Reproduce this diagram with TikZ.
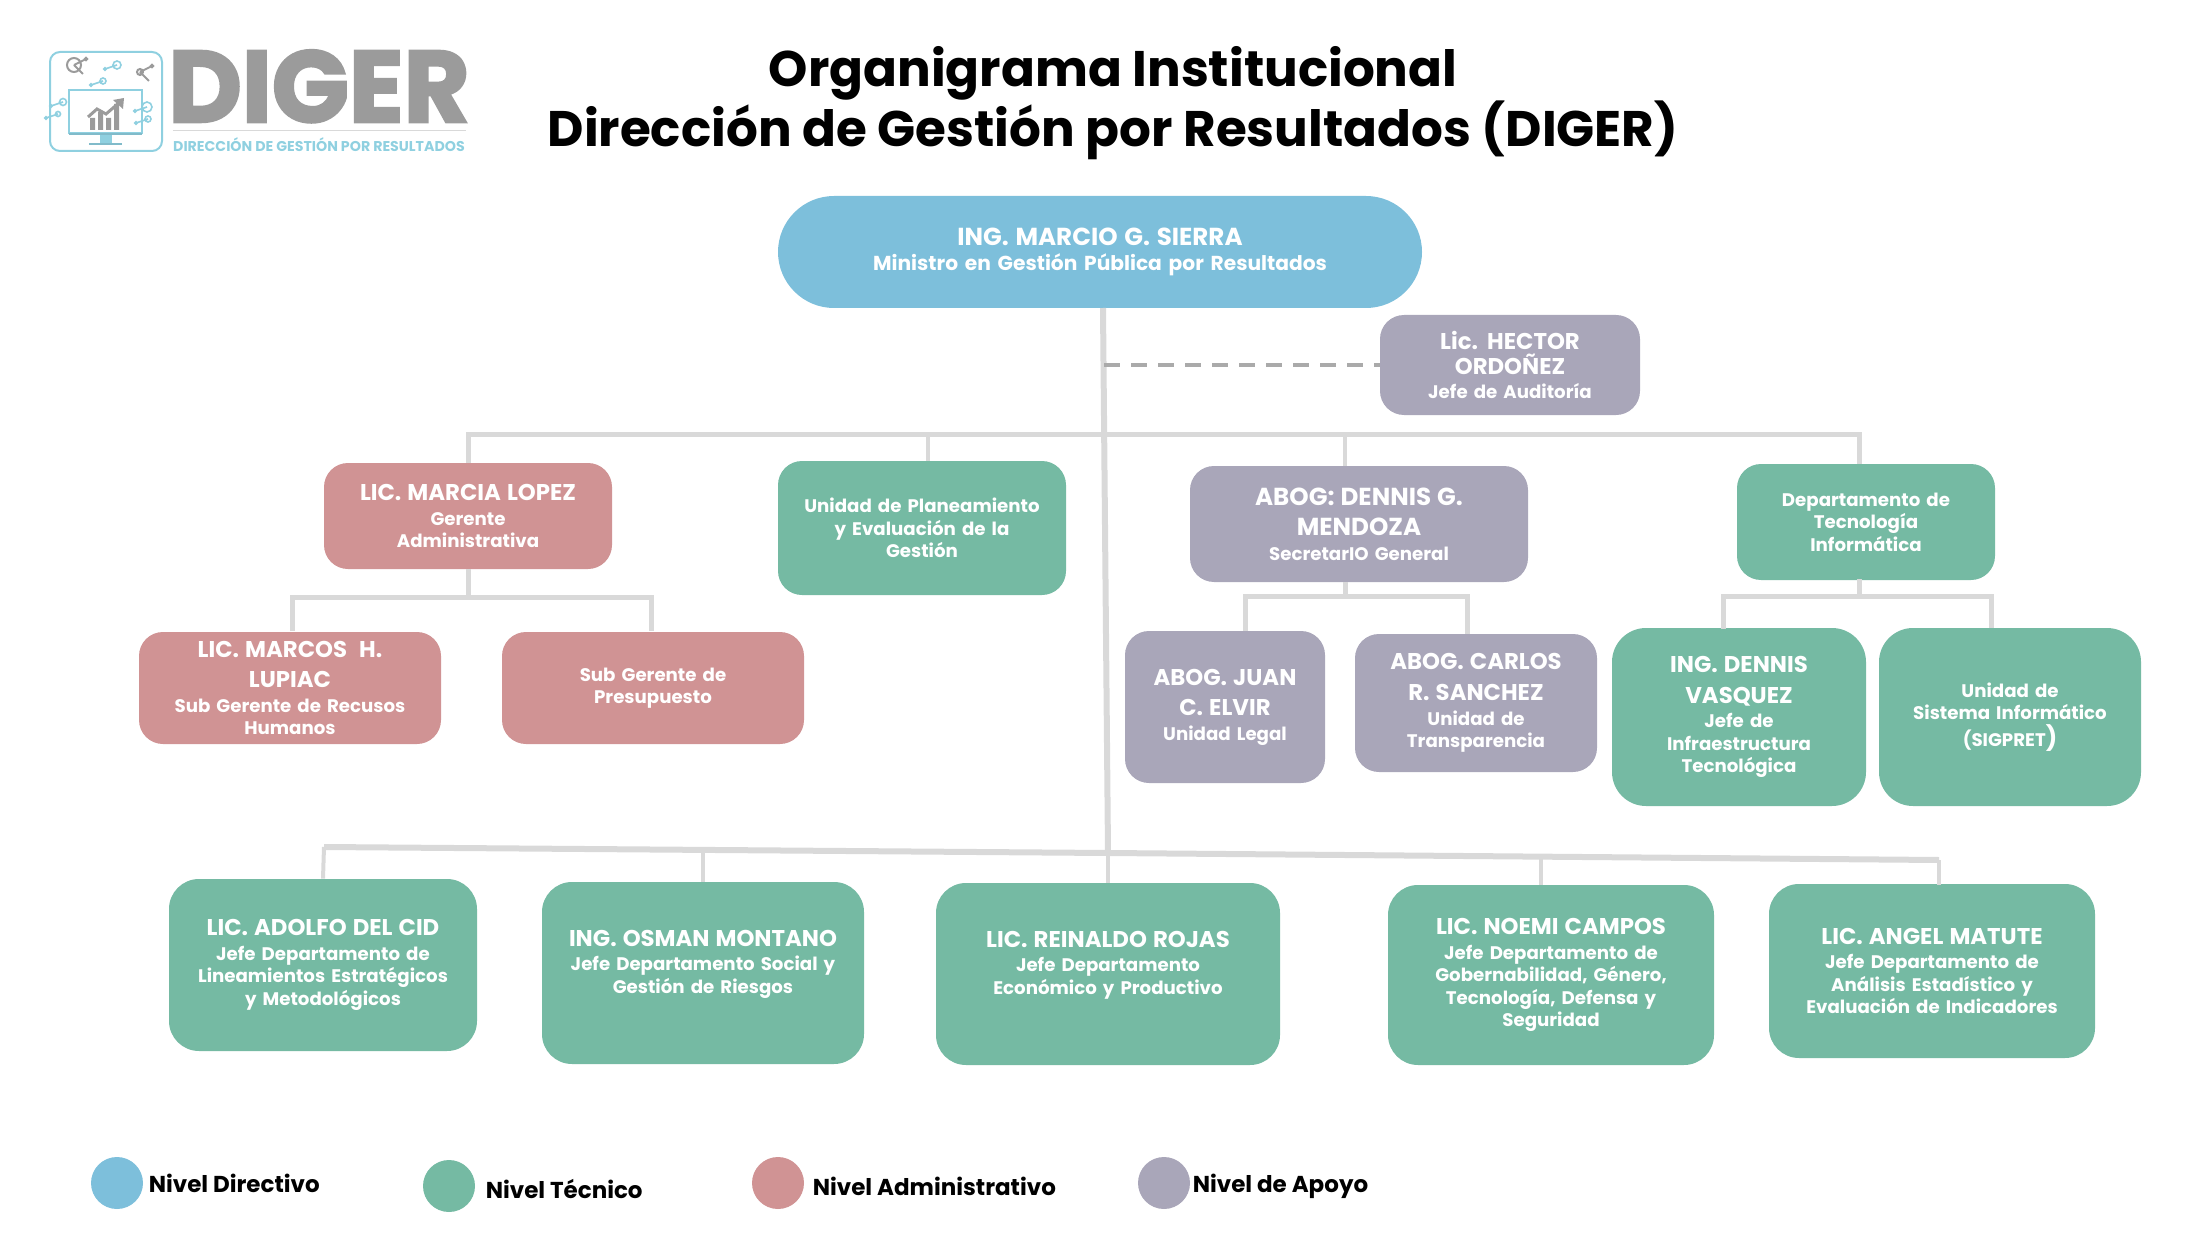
\documentclass[tikz,border=0pt]{standalone}
\usepackage{fontspec}
\setmainfont{Poppins}
\newfontfamily\logofont[BoldFeatures={FakeBold=2.5}]{Poppins}
\usetikzlibrary{positioning}

\definecolor{azul}{HTML}{7DBFDB}
\definecolor{verde}{HTML}{75BAA3}
\definecolor{rosa}{HTML}{D09394}
\definecolor{lila}{HTML}{A9A6B9}
\definecolor{linea}{HTML}{D9D9D9}
\definecolor{gris}{HTML}{9B9B9B}
\definecolor{celeste}{HTML}{8FD0E0}

\newcommand{\nombre}[2][11.4]{{\fontsize{#1}{13}\selectfont #2}\\[1pt]}
\newcommand{\nombreb}[2][11.4]{{\fontsize{#1}{13}\selectfont #2}\\[4pt]}

\begin{document}
\begin{tikzpicture}[
            x=0.5pt, y=-0.5pt,
            every node/.style={ inner sep=0pt },
            cargo/.style={ text=white, align=center, rounded corners=12pt, text width=#1,
                font=\fontsize{9.1}{11.3}\selectfont\bfseries },
            cargo/.default=130pt,
            conn/.style={ draw=linea, line width=2.5pt },
            punto/.style={ circle, minimum size=26pt },
            nivel/.style={ font=\fontsize{11.5}{13}\selectfont\bfseries, right=2.5pt of #1 }
        ]
        \useasboundingbox (0,0) rectangle (2206,1241);

        % logo
        \draw[celeste, line width=1pt, rounded corners=5pt] (50,52) rectangle (162,151);
        \draw[celeste, line width=0.7pt] (69,90) rectangle (142,133);
        \fill[celeste!90!black] (69,133) rectangle (142,135);
        \fill[celeste] (100,135) rectangle (112,143);
        \fill[celeste!90!black] (89,143) rectangle (122,145);
        \fill[gris] (90,130) rectangle (95,118) (98,130) rectangle (103,112) (106,130) rectangle (111,118) (114,130) rectangle (119,104);
        \draw[gris, line width=1.5pt] (88,117) -- (97,109) -- (106,114) -- (120,102);
        \fill[gris] (124,98) -- (113,100) -- (123,109) -- cycle;
        \foreach \x/\y/\r in {117/65/4, 103/81/3, 63/102/3.5, 147/107/5, 58/114/2.5, 148/119/3}
            \draw[celeste, line width=0.8pt] (\x,\y) circle (\r) -- (\x-12,\y+4) circle (1.2);
        \foreach \x/\y/\r in {74/65/7, 140/72/3}
            \draw[gris, line width=1pt] (\x,\y) circle (\r) -- (\x+9,\y+9) (\x,\y) -- (\x+12,\y-6) circle (1.2);
        \node[text=gris, text height=35pt, text depth=0pt] (marca) at (319,87) {\logofont\fontsize{50.6}{50}\selectfont\bfseries DIGER};
        \node[text=celeste, text height=5pt, text depth=0pt, font=\fontsize{7.1}{8}\selectfont\bfseries] (lema) at (319,147) {DIRECCIÓN DE GESTIÓN POR RESULTADOS};
        \draw[linea, line width=0.4pt] (lema.north west) ++(0,-11) -- ++(293,0);

        % titulo
        \node[align=center, font=\fontsize{25}{30}\selectfont\bfseries] (titulo) at (1113,103) {Organigrama Institucional\\Dirección de Gestión por Resultados (DIGER)};

        % nivel directivo
        \node[cargo=280pt, fill=azul, minimum width=322pt, minimum height=56pt, rounded corners=28pt, font=\fontsize{10.1}{11.3}\selectfont\bfseries] (sierra) at (1100,252) {\nombre[12.3]{ING. MARCIO G. SIERRA}Ministro en Gestión Pública por Resultados};
        \node[cargo=120pt, fill=lila, minimum width=130pt, minimum height=50pt] (hector) at (1510,365) {\nombre{Lic. HECTOR}\nombre{ORDOÑEZ}Jefe de Auditoría};

        % segundo nivel
        \node[cargo, fill=rosa, minimum width=144pt, minimum height=53pt] (marcia) at (468,516) {\nombre{LIC. MARCIA LOPEZ}Gerente\\Administrativa};
        \node[cargo, fill=verde, minimum width=144pt, minimum height=67pt] (planeamiento) at (922,528) {Unidad de Planeamiento\\y Evaluación de la\\Gestión};
        \node[cargo, fill=lila, minimum width=169pt, minimum height=58pt] (mendoza) at (1359,524) {\nombreb[12.3]{ABOG: DENNIS G.}\nombre[12.3]{MENDOZA}SecretarIO General};
        \node[cargo=120pt, fill=verde, minimum width=129pt, minimum height=58pt] (depto) at (1866,522) {Departamento de\\Tecnología\\Informática};

        % tercer nivel
        \node[cargo, fill=rosa, minimum width=151pt, minimum height=56pt] (marcos) at (290,688) {\nombreb{LIC. MARCOS~~H.}\nombre{LUPIAC}Sub Gerente de Recusos\\Humanos};
        \node[cargo, fill=rosa, minimum width=151pt, minimum height=56pt] (presupuesto) at (653,688) {Sub Gerente de\\Presupuesto};
        \node[cargo=90pt, fill=lila, minimum width=100pt, minimum height=76pt] (juan) at (1225,707) {\nombreb{ABOG. JUAN}\nombre{C. ELVIR}Unidad Legal};
        \node[cargo=110pt, fill=lila, minimum width=121pt, minimum height=69pt] (carlos) at (1476,703) {\nombreb{ABOG. CARLOS}\nombre{R. SANCHEZ}Unidad de\\Transparencia};
        \node[cargo=115pt, fill=verde, minimum width=127pt, minimum height=89pt, rounded corners=17pt] (dennis) at (1739,717) {\nombreb{ING. DENNIS}\nombre{VASQUEZ}Jefe de\\Infraestructura\\Tecnológica};
        \node[cargo=122pt, fill=verde, minimum width=131pt, minimum height=89pt, rounded corners=17pt] (sigpret) at (2010,717) {Unidad de\\Sistema Informático\\[2pt](SIGPRET{\large)}};

        % jefes de departamento
        \node[cargo=150pt, fill=verde, minimum width=154pt, minimum height=86pt, rounded corners=15pt] (adolfo) at (323,965) {\nombre{LIC. ADOLFO DEL CID}Jefe Departamento de\\Lineamientos Estratégicos\\y Metodológicos};
        \node[cargo=150pt, fill=verde, minimum width=161pt, minimum height=91pt, rounded corners=15pt] (osman) at (703,973) {\nombre{ING. OSMAN MONTANO}Jefe Departamento Social y\\Gestión de Riesgos\\~};
        \node[cargo=150pt, fill=verde, minimum width=172pt, minimum height=91pt, rounded corners=15pt] (reinaldo) at (1108,974) {\nombre{LIC. REINALDO ROJAS}Jefe Departamento\\Económico y Productivo\\~};
        \node[cargo=160pt, fill=verde, minimum width=163pt, minimum height=90pt, rounded corners=15pt] (noemi) at (1551,975) {\nombre{LIC. NOEMI CAMPOS}Jefe Departamento de\\Gobernabilidad, Género,\\Tecnología, Defensa y\\Seguridad};
        \node[cargo=160pt, fill=verde, minimum width=163pt, minimum height=87pt, rounded corners=15pt] (angel) at (1932,971) {\nombre{LIC. ANGEL MATUTE}Jefe Departamento de\\Análisis Estadístico y\\Evaluación de Indicadores};

        % leyenda
        \node[punto, fill=azul] (pdirectivo) at (117,1183) {};
        \node[nivel=pdirectivo] (ldirectivo) {Nivel Directivo};
        \node[punto, fill=verde] (ptecnico) at (449,1186) {};
        \node[nivel=ptecnico, xshift=2.5pt, yshift=-1.5pt] (ltecnico) {Nivel Técnico};
        \node[punto, fill=rosa] (padmin) at (778,1183) {};
        \node[nivel=padmin, xshift=1.5pt, yshift=-1.5pt] (ladmin) {Nivel Administrativo};
        \node[punto, fill=lila] (papoyo) at (1164,1183) {};
        \node[nivel=papoyo, xshift=-1.5pt, yshift=-1.5pt] (lapoyo) {Nivel de Apoyo};

        % puntos de paso
        \coordinate (troncoa) at (1103,308);
        \coordinate (troncob) at (1108,853);
        \coordinate (auditoria) at (1104,365);
        \coordinate (busa) at (1859,434);
        \coordinate (plantop) at (928,461);
        \coordinate (mendtop) at (1345,466);
        \coordinate (depttop) at (1859,464);
        \coordinate (mendbot) at (1345,582);
        \coordinate (deptbot) at (1859,579);
        \coordinate (juantop) at (1245,631);
        \coordinate (carltop) at (1467,634);
        \coordinate (denntop) at (1723,629);
        \coordinate (sigptop) at (1991,628);
        \coordinate (marctop) at (292,631);
        \coordinate (prestop) at (651,631);
        \coordinate (adolfo-bus) at (324,847);
        \coordinate (osman-bus) at (703,850);
        \coordinate (noemi-bus) at (1541,857);
        \coordinate (noemi-top) at (1541,885);
        \coordinate (angel-bus) at (1939,860);
        \coordinate (angel-top) at (1939,885);

        % conectores
        \draw[conn, line width=3pt] (troncoa) -- (troncob);
        \draw[gris!85, line width=1.8pt, dash pattern=on 8pt off 5.5pt] (auditoria) -- (hector.west);
        \draw[conn] (marcia.north) |- (busa) -- (depttop);
        \draw[conn, line width=2pt] (plantop |- busa) -- (plantop);
        \draw[conn, line width=2pt] (mendtop |- busa) -- (mendtop);
        \draw[conn] (marcia.south) -- ++(0,28);
        \draw[conn] (marctop) |- (prestop |- {0,597}) -- (prestop);
        \draw[conn] (mendbot) -- ++(0,14);
        \draw[conn] (juantop) |- (carltop |- {0,596}) -- (carltop);
        \draw[conn] (deptbot) -- ++(0,17);
        \draw[conn] (denntop) |- (sigptop |- {0,596}) -- (sigptop);
        \draw[conn, line width=3pt] (adolfo-bus) -- (troncob) -- (angel-bus);
        \draw[conn, line width=2pt] (adolfo-bus) -- (adolfo.north);
        \draw[conn, line width=2pt] (osman-bus) -- (osman.north);
        \draw[conn, line width=2pt] (troncob) -- (reinaldo.north);
        \draw[conn, line width=2pt] (noemi-bus) -- (noemi-top);
        \draw[conn, line width=2pt] (angel-bus) -- (angel-top);
    \end{tikzpicture}
\end{document}
